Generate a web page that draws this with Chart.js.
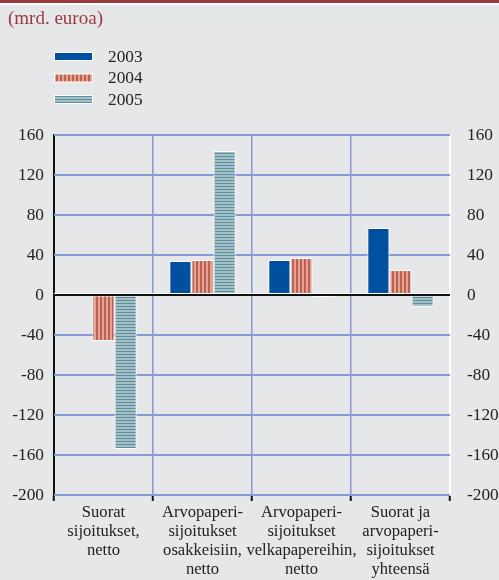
<!DOCTYPE html>
<html>
<head>
<meta charset="utf-8">
<script src="https://cdn.jsdelivr.net/npm/chart.js@4/dist/chart.umd.min.js"></script>
<style>
  body { margin: 0; background: #e6e7e9; }
  canvas { display: block; }
</style>
</head>
<body>
<canvas id="graph" width="499" height="580"></canvas>
<script>
const categories = [
  ["Suorat", "sijoitukset,", "netto"],
  ["Arvopaperi-", "sijoitukset", "osakkeisiin,", "netto"],
  ["Arvopaperi-", "sijoitukset", "velkapapereihin,", "netto"],
  ["Suorat ja", "arvopaperi-", "sijoitukset", "yhteensä"]
];
const years = ["2003", "2004", "2005"];
const values2003 = [-1, 34, 35, 67];
const values2004 = [-46, 35, 37, 25];
const values2005 = [-154, 144, -2, -12];
const yTicks = [-200, -160, -120, -80, -40, 0, 40, 80, 120, 160];

const serif = "'Liberation Serif', 'DejaVu Serif', serif";
Chart.defaults.font.family = serif;
Chart.defaults.font.size = 17.3;
Chart.defaults.color = "#222";

let graph = document.getElementById("graph").getContext("2d");

function makePattern(w, h, paint) {
  let c = document.createElement("canvas");
  c.width = w;
  c.height = h;
  paint(c.getContext("2d"));
  return graph.createPattern(c, "repeat");
}

// vertical red stripes for 2004
let redStripes = makePattern(4, 4, g => {
  g.fillStyle = "#e2a595";
  g.fillRect(0, 0, 4, 4);
  g.fillStyle = "#bf5f52";
  g.fillRect(0, 0, 2, 4);
});

// horizontal teal stripes for 2005
let tealStripes = makePattern(4, 3, g => {
  g.fillStyle = "#a3c0c8";
  g.fillRect(0, 0, 4, 3);
  g.fillStyle = "#5f8e9b";
  g.fillRect(0, 0, 4, 1);
});

const gridBlue = "#8a98d4";
const step = yTicks[1] - yTicks[0];

let frame = {
  id: "frame",
  beforeDraw(chart) {
    let c = chart.ctx;
    c.save();
    c.fillStyle = "#e6e7e9";
    c.fillRect(0, 0, chart.width, chart.height);
    c.restore();
  },
  beforeDatasetsDraw(chart) {
    // horizontal grid lines at the y ticks, snapped to whole pixels
    let c = chart.ctx;
    let area = chart.chartArea;
    let y = chart.scales.y;
    c.save();
    c.fillStyle = gridBlue;
    y.ticks.forEach(t => {
      let py = Math.round(y.getPixelForValue(t.value));
      c.fillRect(area.left, py - 1, area.right - area.left, 2);
    });
    c.restore();
  },
  afterDatasetsDraw(chart) {
    // zero line across the plot, on top of the bars
    let c = chart.ctx;
    let area = chart.chartArea;
    let y0 = Math.round(chart.scales.y.getPixelForValue(0));
    c.save();
    c.fillStyle = "#ffffff";
    c.fillRect(area.left, y0 - 2, area.right - area.left, 1);
    c.fillStyle = "#111";
    c.fillRect(area.left, y0 - 1, area.right - area.left, 2);
    c.restore();
  },
  afterDraw(chart) {
    let c = chart.ctx;
    c.save();
    c.fillStyle = "#993a3f";
    c.fillRect(0, 0, chart.width, 3);
    c.fillStyle = "#ffffff";
    c.fillRect(0, 3, chart.width, 2);
    c.font = "19px " + serif;
    c.fillStyle = "#993a3f";
    c.textBaseline = "alphabetic";
    c.fillText("(mrd. euroa)", 8, 24);

    c.font = "17.3px " + serif;
    chart.data.datasets.forEach((ds, i) => {
      let y = 53 + i * 21.5;
      c.fillStyle = "#ffffff";
      c.fillRect(54, y - 1, 39, 9);
      c.fillStyle = ds.backgroundColor;
      c.fillRect(55, y, 37, 7);
      c.fillStyle = "#222";
      c.textBaseline = "middle";
      c.fillText(ds.label, 108, y + 4);
    });
    c.restore();
  }
};

let chart = new Chart(graph, {
  type: "bar",
  data: {
    labels: categories,
    datasets: [
      { label: years[0], data: values2003, backgroundColor: "#0050a0", yAxisID: "y" },
      { label: years[1], data: values2004, backgroundColor: redStripes, yAxisID: "y" },
      { label: years[2], data: values2005, backgroundColor: tealStripes, yAxisID: "y" }
    ]
  },
  options: {
    responsive: false,
    animation: false,
    layout: { padding: { top: 135, left: 0, right: 0, bottom: 0 } },
    datasets: {
      bar: {
        categoryPercentage: 0.67,
        barPercentage: 1,
        borderColor: "#ffffff",
        borderWidth: 1,
        borderSkipped: false
      }
    },
    plugins: {
      legend: { display: false },
      title: { display: false },
      tooltip: { enabled: false }
    },
    scales: {
      x: {
        offset: true,
        grid: {
          offset: true,
          color: gridBlue,
          lineWidth: 1.5,
          drawTicks: true,
          tickLength: 6,
          tickColor: "#111",
          tickWidth: 2
        },
        border: { color: "#111", width: 2 },
        ticks: {
          autoSkip: false, maxRotation: 0, minRotation: 0, padding: 2,
          color: "#222", font: { size: 16.6, lineHeight: 1.15 }
        },
        afterFit(scale) { scale.height = 85; }
      },
      y: {
        position: "left",
        min: yTicks[0],
        max: yTicks[yTicks.length - 1],
        grid: { drawOnChartArea: false, drawTicks: false },
        border: { color: "#111", width: 2 },
        ticks: { stepSize: step, padding: 10, color: "#222" },
        afterFit(scale) { scale.width = 54; }
      },
      yRight: {
        position: "right",
        min: yTicks[0],
        max: yTicks[yTicks.length - 1],
        grid: { drawOnChartArea: false, drawTicks: false },
        border: { color: "#ffffff", width: 2 },
        ticks: { stepSize: step, padding: 17, color: "#222" },
        afterFit(scale) { scale.width = 49; }
      }
    }
  },
  plugins: [frame]
});
</script>
</body>
</html>
